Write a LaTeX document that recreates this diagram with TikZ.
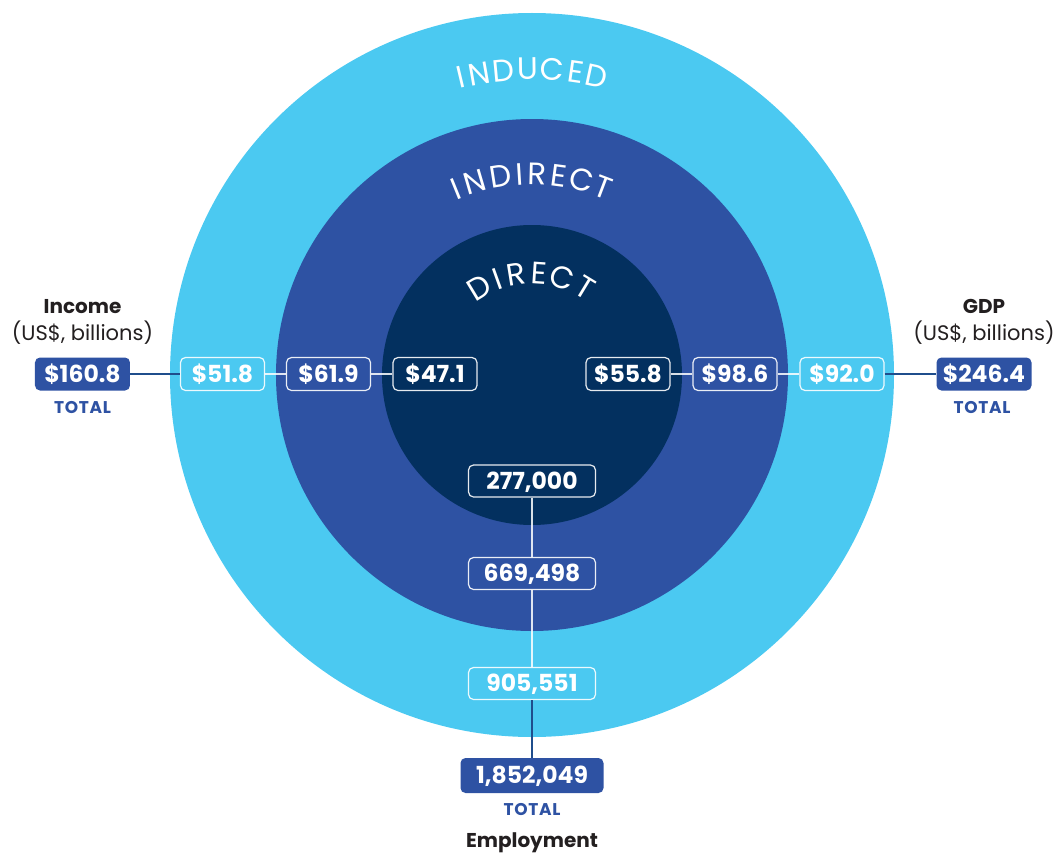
\documentclass[tikz,border=0pt]{standalone}
\usepackage{fontspec}
\setmainfont{Poppins}
\definecolor{outerc}{HTML}{4BC9F1}
\definecolor{midc}{HTML}{2E52A3}
\definecolor{innc}{HTML}{03305F}
\definecolor{totc}{HTML}{2E52A3}
\definecolor{darkln}{HTML}{1F4D8C}
\definecolor{ink}{HTML}{231F20}
\newcommand\valfont{\fontsize{23.5}{23.5}\selectfont\bfseries}
\tikzset{
  ring/.style={circle, inner sep=0pt, outer sep=0pt},
  valbox/.style={draw=white, draw opacity=0.9, line width=1.2pt, rounded corners=5pt,
    minimum width=84pt, minimum height=33pt, inner sep=0pt, text=white,
    font=\valfont, text height=16.2pt, text depth=0pt},
  empbox/.style={valbox, minimum width=127pt, minimum height=32pt},
  totbox/.style={fill=totc, rounded corners=5pt, minimum width=95pt, minimum height=33pt,
    inner sep=0pt, text=white, font=\valfont, text height=16.2pt, text depth=0pt},
  lightln/.style={draw=white, draw opacity=0.85, line width=1.3pt},
  darkline/.style={draw=darkln, line width=1.5pt},
  arcl/.style={inner sep=0pt, text=white, font=\fontsize{31}{31}\selectfont, anchor=center},
  lbl/.style={inner sep=0pt, text=ink, font=\fontsize{21}{21}\selectfont},
  headl/.style={inner sep=0pt, text=ink, font=\fontsize{20}{20}\selectfont\bfseries},
  totl/.style={inner sep=0pt, text=totc, font=\fontsize{17}{17}\selectfont\bfseries\addfontfeatures{LetterSpace=4}},
}
\begin{document}
\begin{tikzpicture}[x=1pt,y=1pt]
\useasboundingbox (-532,-477) rectangle (527,375);
% rings
\node[ring, fill=outerc, minimum size=724pt] (outer) at (0,0) {};
\node[ring, fill=midc, minimum size=512pt] (middle) at (0,0) {};
\node[ring, fill=innc, minimum size=300pt] (inner) at (0,0) {};
% curved titles
\foreach \a/\l [count=\i] in {103.44/I, 99.93/N, 95.4/D, 90.85/U, 86.3/C, 81.76/E, 77.86/D}
  \node[arcl, rotate=\a-90] (induced\i) at (\a:306) {\l};
\foreach \a/\l [count=\i] in {112.1/I, 106.5/N, 99.0/D, 93.55/I, 88.56/R, 82.35/E, 75.8/C, 69.25/T}
  \node[arcl, rotate=\a-90] (indirect\i) at (\a:201) {\l};
\foreach \a/\l [count=\i] in {121.25/D, 109.8/I, 99.2/R, 86.2/E, 72.5/C, 58.8/T}
  \node[arcl, rotate=\a-90] (direct\i) at (\a:102) {\l};
% income side
\node[headl, anchor=base] (inchead) at (-449.5,62) {Income};
\node[lbl, anchor=base] (incunit) at (-449.5,35) {(US\$, billions)};
\node[totbox] (inctot) at (-449.5,1) {\$160.8};
\node[totl, anchor=base] (inctotl) at (-449.5,-38) {TOTAL};
\node[valbox, fill=outerc] (incind) at (-309.5,1) {\$51.8};
\node[valbox, fill=midc] (incindir) at (-203.5,1) {\$61.9};
\node[valbox, fill=innc] (incdir) at (-97,1) {\$47.1};
% gdp side
\node[headl, anchor=base] (gdphead) at (452,62) {GDP};
\node[lbl, anchor=base] (gdpunit) at (452,35) {(US\$, billions)};
\node[totbox] (gdptot) at (452,1) {\$246.4};
\node[totl, anchor=base] (gdptotl) at (450,-38) {TOTAL};
\node[valbox, fill=outerc] (gdpind) at (310,1) {\$92.0};
\node[valbox, fill=midc] (gdpindir) at (203,1) {\$98.6};
\node[valbox, fill=innc] (gdpdir) at (96,1) {\$55.8};
% employment
\node[empbox, fill=innc] (empdir) at (0,-106) {277,000};
\node[empbox, fill=midc] (empindir) at (0,-198.5) {669,498};
\node[empbox, fill=outerc] (empind) at (0,-308.5) {905,551};
\node[totbox, minimum width=143pt, minimum height=35pt] (emptot) at (0,-400.5) {1,852,049};
\node[totl, anchor=base] (emptotl) at (0,-440) {TOTAL};
\node[headl, anchor=base] (emphead) at (0,-472) {Employment};
% connectors
\draw[darkline] (inctot) -- (incind);
\draw[lightln] (incind) -- (incindir);
\draw[lightln] (incindir) -- (incdir);
\draw[lightln] (gdpdir) -- (gdpindir);
\draw[lightln] (gdpindir) -- (gdpind);
\draw[darkline] (gdpind) -- (gdptot);
\draw[lightln] (empdir) -- (empindir);
\draw[lightln] (empindir) -- (empind);
\draw[darkline] (empind) -- (emptot);
\end{tikzpicture}
\end{document}
